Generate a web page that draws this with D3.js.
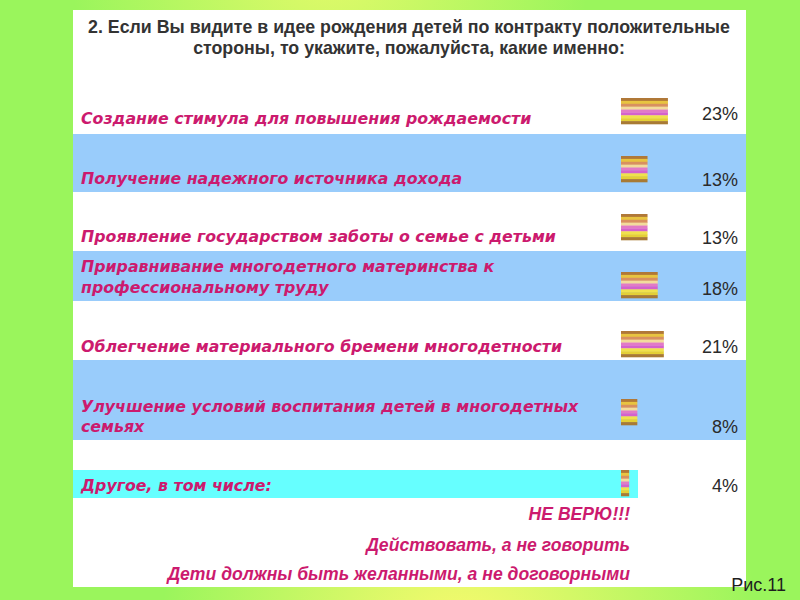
<!DOCTYPE html>
<html><head><meta charset="utf-8">
<script src="https://cdn.jsdelivr.net/npm/d3@7"></script>
<style>html,body{margin:0;padding:0;background:#9af55c;}svg{display:block;}</style>
</head><body>
<script>
// ---- data ----
const titleLines = ["2. Если Вы видите в идее рождения детей по контракту положительные",
                    "стороны, то укажите, пожалуйста, какие именно:"];
const categories = [
  ["Создание стимула для повышения рождаемости"],
  ["Получение надежного источника дохода"],
  ["Проявление государством заботы о семье с детьми"],
  ["Приравнивание многодетного материнства к", "профессиональному труду"],
  ["Облегчение материального бремени многодетности"],
  ["Улучшение условий воспитания детей в многодетных", "семьях"],
  ["Другое, в том числе:"]
];
const values = [23, 13, 13, 18, 21, 8, 4];
const otherAnswers = ["НЕ ВЕРЮ!!!", "Действовать, а не говорить", "Дети должны быть желанными, а не договорными"];
const figLabel = "Рис.11";

// ---- layout (positions only) ----
const W = 800, H = 600;
const panel = {x: 73, y: 10, w: 673, h: 577};
const rows = [
  {y0: 60,  y1: 134, fill: "#ffffff", lab: [124], bar: 98,  val: 120},
  {y0: 134, y1: 192, fill: "#99ccfb", lab: [184], bar: 156, val: 186},
  {y0: 192, y1: 251, fill: "#ffffff", lab: [242], bar: 214, val: 244},
  {y0: 251, y1: 301, fill: "#99ccfb", lab: [272, 293], bar: 272, val: 295},
  {y0: 301, y1: 360, fill: "#ffffff", lab: [352], bar: 331, val: 353},
  {y0: 360, y1: 440, fill: "#99ccfb", lab: [412, 432], bar: 399, val: 433},
  {y0: 470, y1: 498, fill: "#66ffff", lab: [491], bar: 470, val: 492, x1: 638}
];
const barH = 26;
const stripeColors = ["#b07838","#e8c440","#d89060","#f2dc9c","#e27ac6","#d462cc","#f0e24c","#e4d036","#a87a34"];

const svg = d3.select("body").append("svg").attr("width", W).attr("height", H);
const defs = svg.append("defs");
const rg1 = defs.append("radialGradient").attr("id","yb").attr("gradientUnits","userSpaceOnUse")
  .attr("cx",460).attr("cy",640).attr("r",300);
rg1.append("stop").attr("offset",0).attr("stop-color","#fafa6e").attr("stop-opacity",1);
rg1.append("stop").attr("offset",1).attr("stop-color","#fafa6e").attr("stop-opacity",0);
const rg2 = defs.append("radialGradient").attr("id","yt").attr("gradientUnits","userSpaceOnUse")
  .attr("cx",330).attr("cy",-40).attr("r",260);
rg2.append("stop").attr("offset",0).attr("stop-color","#e4fa6a").attr("stop-opacity",1);
rg2.append("stop").attr("offset",1).attr("stop-color","#e4fa6a").attr("stop-opacity",0);

svg.append("rect").attr("width",W).attr("height",H).attr("fill","#9af55c");
svg.append("rect").attr("width",W).attr("height",H).attr("fill","url(#yb)");
svg.append("rect").attr("width",W).attr("height",H).attr("fill","url(#yt)");

svg.append("rect").attr("x",panel.x).attr("y",panel.y).attr("width",panel.w).attr("height",panel.h).attr("fill","#ffffff");

// title
svg.append("g").selectAll("text").data(titleLines).join("text")
  .attr("x", 409).attr("y", (d,i)=>33 + i*21)
  .attr("text-anchor","middle")
  .attr("font-family","'Liberation Sans', Arial, sans-serif").attr("font-weight","bold")
  .attr("font-size",17.8).attr("fill","#333333")
  .text(d=>d);

// bands
svg.append("g").selectAll("rect").data(rows).join("rect")
  .attr("x", panel.x).attr("y", d=>d.y0)
  .attr("width", d=>(d.x1||panel.x+panel.w)-panel.x).attr("height", d=>d.y1-d.y0)
  .attr("fill", d=>d.fill);

// scale
const x = d3.scaleLinear().domain([0, 25]).range([621, 672]);

// bars with stripes
const bars = svg.append("g").selectAll("g").data(values).join("g");
bars.each(function(v,i){
  const g = d3.select(this);
  const sh = barH / stripeColors.length;
  g.selectAll("rect").data(stripeColors).join("rect")
    .attr("x", x(0)).attr("y", (c,k)=>rows[i].bar + k*sh)
    .attr("width", x(v)-x(0)).attr("height", sh+0.3)
    .attr("fill", c=>c);
});

// category labels
const lab = svg.append("g");
categories.forEach((lines,i)=>{
  lines.forEach((t,k)=>{
    lab.append("text").attr("x",81).attr("y",rows[i].lab[k])
      .attr("font-family","'DejaVu Sans', Verdana, sans-serif").attr("font-weight","bold")
      .attr("font-style","italic").attr("font-size",15.8).attr("fill","#cc1a6e")
      .text(t);
  });
});

// value labels
svg.append("g").selectAll("text").data(values).join("text")
  .attr("x",738).attr("y",(d,i)=>rows[i].val).attr("text-anchor","end")
  .attr("font-family","'Liberation Sans', Arial, sans-serif").attr("font-size",18)
  .attr("fill","#2a2a2a").text(d=>d+"%");

// other answers
svg.append("g").selectAll("text").data(otherAnswers).join("text")
  .attr("x",630).attr("y",(d,i)=>[520,551,580][i]).attr("text-anchor","end")
  .attr("font-family","'Liberation Sans', Arial, sans-serif").attr("font-weight","bold")
  .attr("font-style","italic").attr("font-size",17.6).attr("fill","#cc1a6e")
  .text(d=>d);

svg.append("text").attr("x",786).attr("y",591).attr("text-anchor","end")
  .attr("font-family","'Liberation Sans', Arial, sans-serif").attr("font-size",18)
  .attr("fill","#1e1e1e").text(figLabel);
</script>
</body></html>
